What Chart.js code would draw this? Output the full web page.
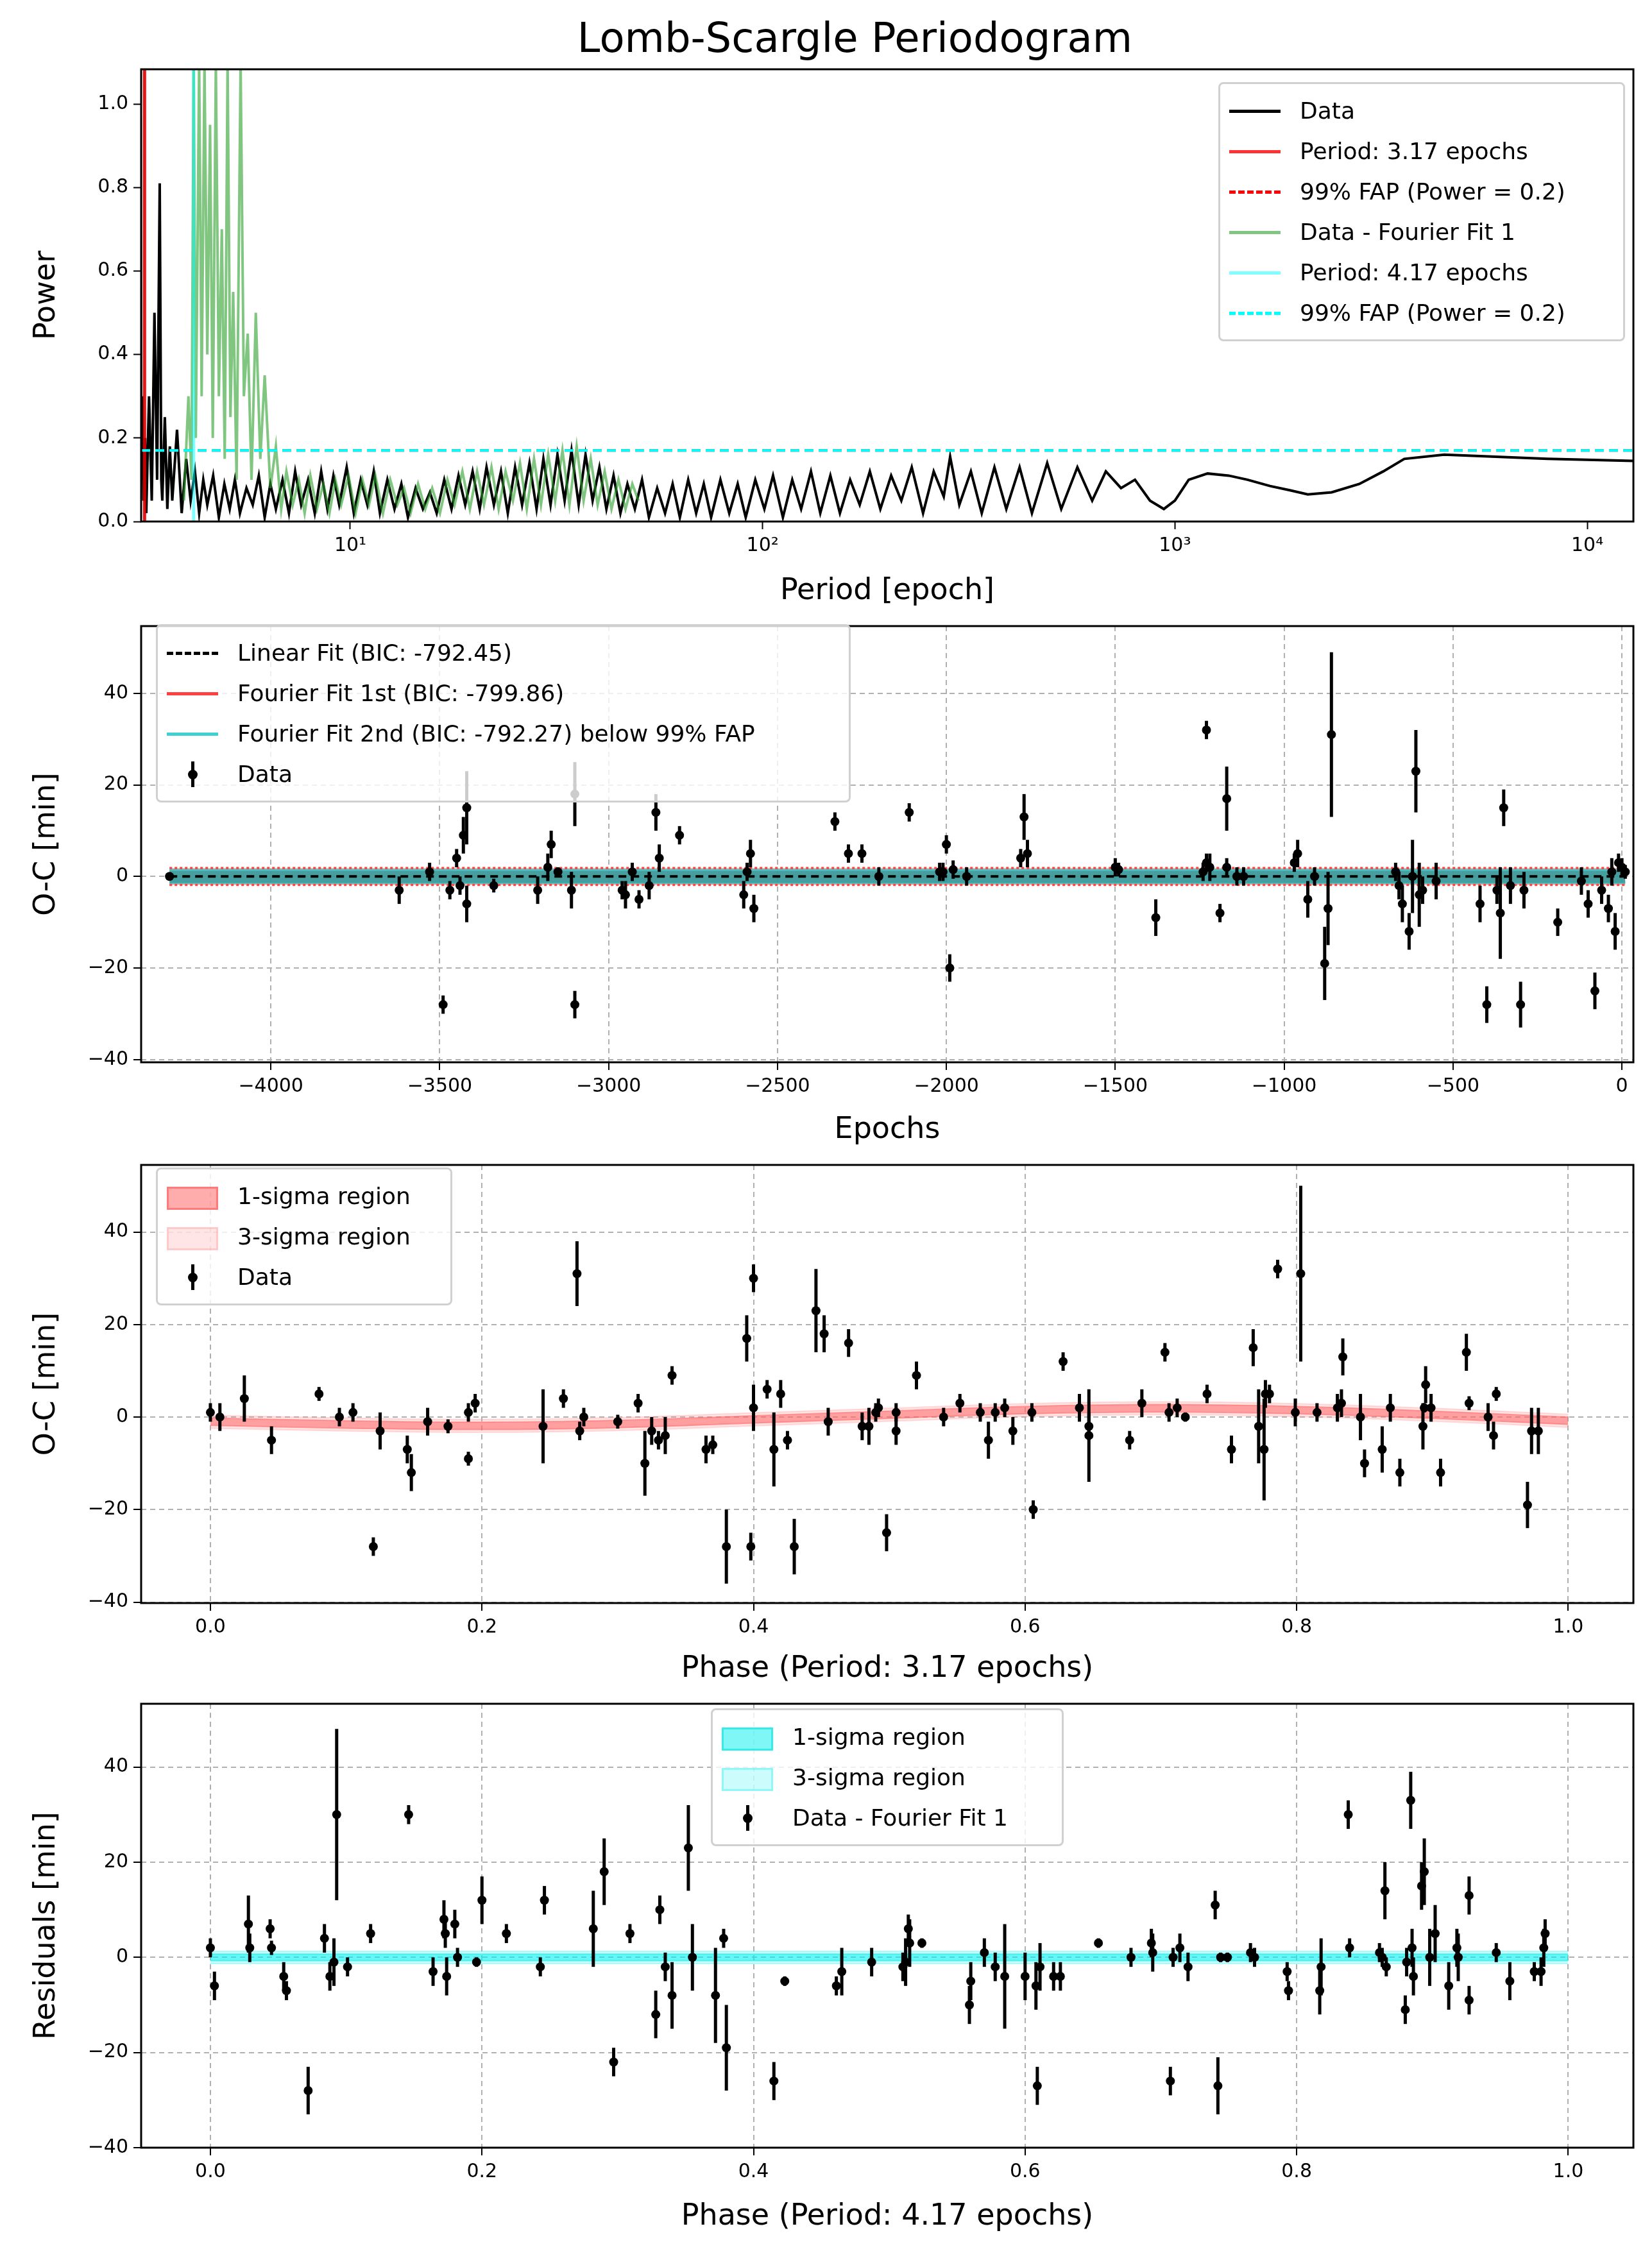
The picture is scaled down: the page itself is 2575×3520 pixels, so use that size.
<!DOCTYPE html>
<html>
<head>
<meta charset="utf-8">
<script src="https://cdn.jsdelivr.net/npm/chart.js@4.4.1/dist/chart.umd.min.js"></script>
<style>
  body { margin: 0; background: #fff; font-family: 'DejaVu Sans', sans-serif; }
  #page { position: relative; width: 2575px; height: 3520px; }
  .panel { position: absolute; left: 0; width: 2575px; }
  .title { position: absolute; left: 0; width: 2575px; top: 22px; text-align: center; font-size: 64px; padding-left: 90px; box-sizing: border-box; }
  .legend { position: absolute; background: rgba(255,255,255,0.8); border: 3px solid #d0d0d0; border-radius: 8px;
            font-size: 36px; padding: 10px 18px 10px 14px; box-sizing: border-box; }
  .legend .row { display: flex; align-items: center; height: 63px; }
  .legend .sw { width: 80px; height: 40px; margin-right: 30px; position: relative; }
</style>
</head>
<body>
<div id="page">
  <div class="title">Lomb-Scargle Periodogram</div>
  <div class="panel" style="top:0;height:950px"><canvas id="c1"></canvas></div>
  <div class="panel" style="top:950px;height:840px"><canvas id="c2"></canvas></div>
  <div class="panel" style="top:1790px;height:840px"><canvas id="c3"></canvas></div>
  <div class="panel" style="top:2630px;height:890px"><canvas id="c4"></canvas></div>
</div>
<script>
// ─── DATA ───
// periodogram of the data: [period, power]
const dataPgram = [[3.1,0.97],[3.11,0.1],[3.13,0.3],[3.15,0.05],[3.18,0.2],[3.2,0.02],[3.25,0.3],[3.3,0.05],[3.35,0.5],[3.4,0.1],
  [3.45,0.81],[3.48,0.1],[3.5,0.05],[3.55,0.25],[3.6,0.03],[3.65,0.18],[3.7,0.05],[3.8,0.22],[3.9,0.02],[4.0,0.15],[4.1,0.05],
  [4.2,0.12],[4.3,0.02],[4.4,0.1],[4.5,0.04],[4.65,0.11],[4.8,0.01],[4.95,0.09],[5.1,0.03],[5.25,0.1],[5.4,0.02],[5.6,0.08],
  [5.8,0.04],[6.0,0.11],[6.2,0.01],[6.4,0.09],[6.6,0.03],[6.85,0.1],[7.1,0.02],[7.35,0.12],[7.6,0.04],[7.9,0.1],[8.2,0.02],
  [8.5,0.12],[8.8,0.03],[9.1,0.11],[9.4,0.04],[9.8,0.13],[10.2,0.02],[10.6,0.1],[11,0.04],[11.4,0.12],[11.8,0.02],[12.3,0.1],
  [12.8,0.03],[13.3,0.09],[13.8,0.01],[14.4,0.08],[15,0.03],[15.6,0.07],[16.2,0.02],[16.9,0.1],[17.6,0.03],[18.3,0.11],[19,0.04],
  [19.8,0.12],[20.6,0.03],[21.4,0.13],[22.3,0.04],[23.2,0.12],[24.1,0.02],[25.1,0.13],[26.1,0.04],[27.2,0.14],[28.3,0.03],
  [29.4,0.15],[30.6,0.04],[31.8,0.16],[33.1,0.05],[34.4,0.17],[35.8,0.04],[37.2,0.16],[38.7,0.05],[40.2,0.13],[41.8,0.03],
  [43.5,0.11],[45.2,0.02],[47,0.09],[49,0.03],[51,0.1],[53,0.01],[55.5,0.08],[58,0.02],[60.5,0.09],[63,0.01],[66,0.1],[69,0.02],
  [72,0.09],[75,0.01],[79,0.1],[83,0.02],[87,0.09],[91,0.01],[96,0.1],[101,0.03],[106,0.11],[112,0.01],[118,0.1],[124,0.03],
  [131,0.12],[138,0.02],[146,0.11],[154,0.02],[163,0.1],[172,0.04],[182,0.12],[193,0.03],[205,0.11],[217,0.05],[230,0.13],
  [245,0.02],[260,0.12],[275,0.06],[285,0.155],[300,0.04],[320,0.12],[340,0.02],[365,0.13],[390,0.03],[420,0.13],[450,0.02],
  [490,0.14],[530,0.03],[580,0.13],[630,0.05],[680,0.12],[740,0.08],[800,0.1],[870,0.05],[940,0.03],[1000,0.05],[1080,0.1],
  [1200,0.115],[1350,0.11],[1500,0.1],[1700,0.085],[1900,0.075],[2100,0.065],[2400,0.07],[2800,0.09],[3200,0.12],[3600,0.15],
  [4500,0.16],[6000,0.155],[8000,0.15],[13000,0.145]];
// periodogram of the residuals (Data - Fourier Fit 1): [period, power]
const residPgram = [[3.95,0.05],[4.05,0.3],[4.12,0.1],[4.17,1.1],[4.22,0.2],[4.3,1.1],[4.36,0.3],[4.43,1.1],[4.5,0.4],[4.57,0.95],
  [4.64,0.2],[4.72,1.1],[4.8,0.3],[4.88,0.7],[4.96,0.15],[5.04,1.1],[5.12,0.25],[5.2,0.55],[5.3,0.1],[5.42,1.1],[5.52,0.3],
  [5.64,0.45],[5.76,0.1],[5.9,0.5],[6.05,0.15],[6.2,0.35],[6.4,0.08],[6.6,0.18],[6.8,0.03],[7.0,0.12],[7.25,0.04],[7.5,0.1],
  [7.75,0.02],[8.0,0.11],[8.3,0.03],[8.6,0.09],[8.9,0.02],[9.2,0.1],[9.5,0.04],[9.9,0.11],[10.3,0.02],[10.7,0.1],[11.1,0.04],
  [11.5,0.11],[12,0.02],[12.5,0.1],[13,0.04],[13.5,0.08],[14,0.02],[14.6,0.09],[15.2,0.03],[15.8,0.08],[16.5,0.02],[17.2,0.1],
  [17.9,0.04],[18.7,0.12],[19.5,0.03],[20.3,0.12],[21.1,0.04],[22,0.13],[22.9,0.03],[23.8,0.12],[24.8,0.05],[25.8,0.14],
  [26.8,0.03],[27.9,0.15],[29,0.04],[30.2,0.16],[31.4,0.05],[32.7,0.17],[34,0.04],[35.4,0.18],[36.8,0.05],[38.3,0.15],
  [39.8,0.04],[41.4,0.12],[43,0.03],[44.7,0.1],[46.5,0.03],[48.3,0.09],[50,0.05]];
const bestPeriod1 = 3.17, bestPeriod2 = 4.17, fapLevel = 0.17;
const periodRange = [3.11, 12940];

// O-C vs epoch: [epoch, O-C, err]
const ocData = [[-4300,0,0.5],[-3620,-3,3],[-3530,1,2],[-3490,-28,2],[-3470,-3,2],[-3450,4,2],[-3440,-2,2],[-3430,9,4],[-3420,15,8],
  [-3420,-6,4],[-3340,-2,1.5],[-3210,-3,3],[-3180,2,3],[-3170,7,3],[-3150,1,1],[-3110,-3,4],[-3100,18,7],[-3100,-28,3],[-2960,-3,2],
  [-2950,-4,3],[-2930,1,2],[-2910,-5,2],[-2880,-2,3],[-2860,14,4],[-2850,4,3],[-2790,9,2],[-2600,-4,3],[-2590,1,2],[-2580,5,3],
  [-2570,-7,3],[-2330,12,2],[-2290,5,2],[-2250,5,2],[-2200,0,2],[-2110,14,2],[-2020,1,2],[-2010,1,2],[-2000,7,2],[-1990,-20,3],
  [-1980,1.5,2],[-1940,0,2],[-1780,4,2],[-1770,13,5],[-1760,5,3],[-1500,2,2],[-1490,1.5,1.5],[-1380,-9,4],[-1240,1,2],[-1230,3,2],
  [-1230,32,2],[-1220,2,3],[-1190,-8,2],[-1170,17,7],[-1170,2,2],[-1140,0,2],[-1120,0,2],[-970,3,2],[-960,5,3],[-930,-5,4],[-910,0,2],
  [-880,-19,8],[-870,-7,8],[-860,31,18],[-670,1,2],[-660,-2,3],[-650,-6,4],[-630,-12,4],[-620,0,8],[-610,23,9],[-600,-4,7],[-590,-3,3],
  [-550,-1,4],[-420,-6,4],[-400,-28,4],[-370,-3,3],[-360,-8,10],[-350,15,4],[-330,-2,4],[-300,-28,5],[-290,-3,4],[-190,-10,3],
  [-120,-1,3],[-100,-6,3],[-80,-25,4],[-60,-3,3],[-40,-7,3],[-20,-12,4],[-30,1,3],[-10,3,2],[0,2,2],[10,1,1.5]];
const epochRange = [-4300, 10];
const epochTicks = [-4000, -3500, -3000, -2500, -2000, -1500, -1000, -500, 0];
const linearFit = [0, 0];
const fourier1Halfwidth = 1.8, fourier2Halfwidth = 1.4;

// O-C folded on period 1: [phase, O-C, err]
const phase1Data = [[0.0,1,2],[0.007,0,3],[0.025,4,5],[0.045,-5,3],[0.08,5,1.5],[0.095,0,2],[0.105,1,2],[0.12,-28,2],[0.125,-3,4],
  [0.145,-7,3],[0.148,-12,4],[0.16,-1,3],[0.175,-2,1.5],[0.19,-9,1.5],[0.19,1,2],[0.195,3,2],[0.245,-2,8],[0.26,4,2],[0.27,31,7],
  [0.272,-3,2],[0.275,0,2],[0.3,-1,1.5],[0.315,3,2],[0.32,-10,7],[0.325,-3,3],[0.33,-5,2],[0.335,-4,4],[0.34,9,2],[0.365,-7,3],
  [0.37,-6,2],[0.38,-28,8],[0.395,17,5],[0.398,-28,3],[0.40,2,5],[0.40,30,3],[0.41,6,2],[0.415,-7,8],[0.42,5,3],[0.425,-5,2],
  [0.43,-28,6],[0.446,23,9],[0.452,18,4],[0.455,-1,3],[0.47,16,3],[0.48,-2,3],[0.485,-2,4],[0.49,1,2],[0.492,2,2],[0.498,-25,4],
  [0.505,-3,3],[0.505,1,2],[0.52,9,3],[0.540,0,2],[0.552,3,2],[0.567,1,2],[0.573,-5,4],[0.578,1,2],[0.585,2,2],[0.591,-3,3],
  [0.606,-20,2],[0.605,1,2],[0.628,12,2],[0.640,2,3],[0.647,-4,10],[0.647,-2,3],[0.677,-5,2],[0.686,3,3],[0.703,14,2],[0.706,1,2],
  [0.712,2,2],[0.718,0,1],[0.734,5,2],[0.752,-7,3],[0.768,15,4],[0.772,-2,8],[0.776,-7,11],[0.777,5,3],[0.780,5,2],[0.786,32,2],
  [0.799,1,3],[0.803,31,19],[0.815,1,2],[0.830,2,3],[0.833,3,3],[0.834,13,4],[0.847,0,5],[0.850,-10,3],[0.863,-7,5],[0.869,2,3],
  [0.876,-12,3],[0.894,2,1],[0.893,-2,5],[0.895,7,4],[0.899,2,3],[0.906,-12,3],[0.925,14,4],[0.927,3,1.5],[0.941,0,3],[0.945,-4,3],
  [0.947,5,1.5],[0.970,-19,5],[0.973,-3,5],[0.978,-3,5]];
const model1Phase = [0,0.1,0.2,0.3,0.4,0.5,0.6,0.7,0.8,0.9,1.0];
const model1Value = [-1,-1.6,-1.9,-1.5,-0.5,0.5,1.5,1.9,1.5,0.5,-0.8];

// residuals folded on period 2: [phase, resid, err]
const phase2Data = [[0.000,2,2],[0.003,-6,3],[0.028,7,6],[0.029,2,3],[0.044,6,2],[0.045,2,1.5],[0.054,-4,3],[0.056,-7,2],[0.072,-28,5],
  [0.084,4,3],[0.088,-4,3],[0.091,-1,5],[0.093,30,18],[0.101,-2,2],[0.118,5,2],[0.146,30,2],[0.164,-3,3],[0.172,8,4],[0.173,5,3],
  [0.174,-4,4],[0.180,7,3],[0.182,0,2],[0.196,-1,1],[0.200,12,5],[0.218,5,2],[0.243,-2,2],[0.246,12,3],[0.282,6,8],[0.290,18,7],
  [0.297,-22,3],[0.309,5,2],[0.328,-12,5],[0.331,10,3],[0.335,-2,3],[0.340,-8,7],[0.352,23,9],[0.355,0,7],[0.372,-8,10],[0.378,4,2],
  [0.380,-19,9],[0.415,-26,4],[0.423,-5,1],[0.461,-6,2],[0.465,-3,5],[0.487,-1,3],[0.510,-2,3],[0.512,-1,5],[0.514,6,3],[0.515,3,5],
  [0.524,3,1],[0.559,-10,4],[0.560,-5,4],[0.570,1,3],[0.578,-2,3],[0.585,-4,11],[0.600,-4,5],[0.608,-6,5],[0.609,-27,4],[0.611,-2,5],
  [0.621,-4,3],[0.626,-4,3],[0.654,3,1],[0.678,0,2],[0.693,3,3],[0.694,1,4],[0.707,-26,3],[0.709,0,2],[0.714,2,3],[0.720,-2,3],
  [0.740,11,3],[0.742,-27,6],[0.744,0,1],[0.749,0,1],[0.766,1,2],[0.769,0,2],[0.793,-3,2],[0.794,-7,2],[0.817,-7,5],[0.818,-2,6],
  [0.838,30,3],[0.839,2,2],[0.861,1,2],[0.863,0,2],[0.865,14,6],[0.866,-2,2],[0.880,-11,3],[0.881,-1,3],[0.884,33,6],[0.885,2,4],
  [0.886,-4,4],[0.892,15,5],[0.894,18,7],[0.898,0,6],[0.902,5,6],[0.912,-6,5],[0.918,2,4],[0.919,0,5],[0.927,-9,3],[0.927,13,4],
  [0.947,1,2],[0.957,-5,4],[0.975,-3,2],[0.980,-3,3],[0.982,2,4],[0.983,5,3]];
const model2Phase = [0, 1];
const model2Value = [0, 0];
const phaseTicks = [0, 0.2, 0.4, 0.6, 0.8, 1.0];
const ocTicks = [-40, -20, 0, 20, 40];
const powerTicks = [0, 0.2, 0.4, 0.6, 0.8, 1.0];
const periodTicks = [10, 100, 1000, 10000];

// ─── HELPERS ───
const FONT = "'DejaVu Sans', sans-serif";
const TICK = { color: '#000', font: { family: FONT, size: 30 }, padding: 8 };
const AXTITLE = (t) => ({ display: true, text: t, color: '#000', font: { family: FONT, size: 46 }, padding: { top: 0, bottom: 0 } });
const pairs = (rows) => rows.map(r => ({ x: r[0], y: r[1] }));
const pts = (xs, ys) => xs.map((x, i) => ({ x, y: ys[i] }));
const supers = { 1: '¹', 2: '²', 3: '³', 4: '⁴' };
const minus = v => String(v).replace('-', '\u2212');
const fixTicks = list => s => { s.ticks = list.map(v => ({ value: v })); };

const framePlugin = {
  id: 'frame',
  afterDraw(chart) {
    const a = chart.chartArea, c = chart.ctx;
    c.save(); c.strokeStyle = '#000'; c.lineWidth = 3;
    c.strokeRect(a.left, a.top, a.right - a.left, a.bottom - a.top);
    c.restore();
  }
};
const errorPlugin = {
  id: 'errbars',
  afterDatasetsDraw(chart) {
    const c = chart.ctx, xs = chart.scales.x, ys = chart.scales.y;
    chart.data.datasets.forEach(ds => {
      if (!ds.yerr) return;
      c.save(); c.strokeStyle = '#000'; c.lineWidth = 5;
      ds.data.forEach((p, i) => {
        const px = xs.getPixelForValue(p.x);
        c.beginPath();
        c.moveTo(px, ys.getPixelForValue(p.y - ds.yerr[i]));
        c.lineTo(px, ys.getPixelForValue(p.y + ds.yerr[i]));
        c.stroke();
      });
      c.restore();
    });
  }
};

function linScale(min, max, title, ticks, fmt) {
  return {
    type: 'linear', min, max,
    title: AXTITLE(title),
    ticks: Object.assign({ callback: fmt }, TICK),
    afterBuildTicks: fixTicks(ticks),
    grid: { color: '#b0b0b0', lineWidth: 2, tickColor: '#000', tickLength: 12, tickWidth: 2 },
    border: { display: false, dash: [8, 6] }
  };
}

function errSet(rows) {
  return {
    type: 'scatter', label: 'Data', order: 0,
    data: pairs(rows), yerr: rows.map(r => r[2]),
    pointRadius: 7, pointBackgroundColor: '#000', pointBorderWidth: 0
  };
}

function makeChart(id, datasets, xScale, yScale, padTop, xHeight, padBottom) {
  xScale.afterFit = s => { s.height = xHeight; };
  yScale.afterFit = s => { s.width = 175; };
  return new Chart(document.getElementById(id), {
    type: 'line',
    data: { datasets },
    options: {
      responsive: true, maintainAspectRatio: false, animation: false,
      layout: { padding: { top: padTop, right: 29, left: 45, bottom: padBottom || 0 } },
      plugins: { legend: { display: false }, tooltip: { enabled: false } },
      elements: { point: { radius: 0 }, line: { tension: 0 } },
      scales: { x: xScale, y: yScale }
    },
    plugins: [framePlugin, errorPlugin]
  });
}

function makeLegend(left, top, width, items) {
  const box = document.createElement('div');
  box.className = 'legend';
  box.style.left = left + 'px'; box.style.top = top + 'px'; box.style.width = width + 'px';
  items.forEach(it => {
    const row = document.createElement('div'); row.className = 'row';
    const sw = document.createElement('div'); sw.className = 'sw';
    if (it.kind === 'line') {
      sw.innerHTML = `<div style="position:absolute;left:0;right:0;top:18px;border-top:5px ${it.dash ? 'dashed' : 'solid'} ${it.color}"></div>`;
    } else if (it.kind === 'patch') {
      sw.innerHTML = `<div style="position:absolute;left:0;right:0;top:5px;height:30px;background:${it.color};border:3px solid ${it.edge}"></div>`;
    } else {
      sw.innerHTML = `<div style="position:absolute;left:38px;top:0;height:40px;border-left:5px solid #000"></div>
        <div style="position:absolute;left:33px;top:13px;width:15px;height:15px;border-radius:50%;background:#000"></div>`;
    }
    const tx = document.createElement('span'); tx.textContent = it.text;
    row.appendChild(sw); row.appendChild(tx); box.appendChild(row);
  });
  document.getElementById('page').appendChild(box);
}

document.addEventListener('DOMContentLoaded', () => {

  // ─── 1. PERIODOGRAM ───
  const x1 = {
    type: 'logarithmic', min: periodRange[0], max: periodRange[1],
    title: AXTITLE('Period [epoch]'),
    ticks: Object.assign({}, TICK, { callback: v => '10' + supers[Math.round(Math.log10(v))] }),
    afterBuildTicks: fixTicks(periodTicks),
    grid: { display: true, drawOnChartArea: false, tickColor: '#000', tickLength: 12, tickWidth: 2 },
    border: { display: false }
  };
  const y1 = {
    type: 'linear', min: 0, max: 1.083,
    title: AXTITLE('Power'),
    ticks: Object.assign({ callback: v => v.toFixed(1) }, TICK),
    afterBuildTicks: fixTicks(powerTicks),
    grid: { display: true, drawOnChartArea: false, tickColor: '#000', tickLength: 12, tickWidth: 2 },
    border: { display: false }
  };
  makeChart('c1', [
    { label: 'Data', data: pairs(dataPgram), borderColor: '#000', borderWidth: 4, order: 6 },
    { label: 'Period 1', data: pts([bestPeriod1, bestPeriod1], [0, 1.1]), borderColor: 'rgba(220,0,0,0.9)', borderWidth: 5, order: 5 },
    { label: 'FAP 1', data: pts(periodRange, [fapLevel, fapLevel]), borderColor: '#ff0000', borderDash: [14, 8], borderWidth: 4, order: 4 },
    { label: 'Data - Fourier Fit 1', data: pairs(residPgram), borderColor: 'rgba(44,160,44,0.6)', borderWidth: 4, order: 3 },
    { label: 'Period 2', data: pts([bestPeriod2, bestPeriod2], [0, 1.1]), borderColor: 'rgba(0,255,255,0.5)', borderWidth: 5, order: 2 },
    { label: 'FAP 2', data: pts(periodRange, [fapLevel, fapLevel]), borderColor: '#00ffff', borderDash: [14, 8], borderWidth: 4, order: 1 }
  ], x1, y1, 108, 137);
  makeLegend(1899, 128, 634, [
    { kind: 'line', color: '#000', text: 'Data' },
    { kind: 'line', color: 'rgba(255,0,0,0.8)', text: 'Period: 3.17 epochs' },
    { kind: 'line', color: '#ff0000', dash: true, text: '99% FAP (Power = 0.2)' },
    { kind: 'line', color: 'rgba(44,160,44,0.6)', text: 'Data - Fourier Fit 1' },
    { kind: 'line', color: 'rgba(0,255,255,0.5)', text: 'Period: 4.17 epochs' },
    { kind: 'line', color: '#00ffff', dash: true, text: '99% FAP (Power = 0.2)' }
  ]);

  // ─── 2. O-C vs EPOCH ───
  makeChart('c2', [
    errSet(ocData),
    { label: 'Linear Fit', data: pts(epochRange, linearFit), borderColor: '#000', borderDash: [12, 8], borderWidth: 4, order: 1 },
    { label: 'F2 up', data: pts(epochRange, [fourier2Halfwidth, fourier2Halfwidth]), borderColor: 'rgba(64,200,200,0.9)', borderWidth: 3, fill: '+1', backgroundColor: 'rgba(40,160,160,0.85)', order: 2 },
    { label: 'F2 lo', data: pts(epochRange, [-fourier2Halfwidth, -fourier2Halfwidth]), borderColor: 'rgba(64,200,200,0.9)', borderWidth: 3, order: 2 },
    { label: 'F1 up', data: pts(epochRange, [fourier1Halfwidth, fourier1Halfwidth]), borderColor: '#ff4040', borderDash: [4, 4], borderWidth: 4, fill: '+1', backgroundColor: 'rgba(255,80,80,0.6)', order: 3 },
    { label: 'F1 lo', data: pts(epochRange, [-fourier1Halfwidth, -fourier1Halfwidth]), borderColor: '#ff4040', borderDash: [4, 4], borderWidth: 4, order: 3 }
  ], linScale(-4384, 34, 'Epochs', epochTicks, minus),
     linScale(-40.6, 54.7, 'O-C [min]', ocTicks, minus),
     5, 134);
  makeLegend(243, 973, 1083, [
    { kind: 'line', color: '#000', dash: true, text: 'Linear Fit (BIC: -792.45)' },
    { kind: 'line', color: '#ff4040', text: 'Fourier Fit 1st (BIC: -799.86)' },
    { kind: 'line', color: '#40d0d0', text: 'Fourier Fit 2nd (BIC: -792.27) below 99% FAP' },
    { kind: 'err', text: 'Data' }
  ]);

  const phaseFmt = v => v.toFixed(1);

  // ─── 3. PHASE FOLD, PERIOD 1 ───
  makeChart('c3', [
    errSet(phase1Data),
    { label: '1s up', data: pts(model1Phase, model1Value.map(v => v + 0.8)), borderColor: 'rgba(255,100,100,0.5)', borderWidth: 2, fill: '+1', backgroundColor: 'rgba(255,90,90,0.5)', tension: 0.4, order: 2 },
    { label: '1s lo', data: pts(model1Phase, model1Value.map(v => v - 0.8)), borderColor: 'rgba(255,100,100,0.5)', borderWidth: 2, tension: 0.4, order: 2 },
    { label: '3s up', data: pts(model1Phase, model1Value.map(v => v + 1.4)), borderColor: 'rgba(255,150,150,0.3)', borderWidth: 2, fill: '+1', backgroundColor: 'rgba(255,150,150,0.25)', tension: 0.4, order: 3 },
    { label: '3s lo', data: pts(model1Phase, model1Value.map(v => v - 1.4)), borderColor: 'rgba(255,150,150,0.3)', borderWidth: 2, tension: 0.4, order: 3 }
  ], linScale(-0.051, 1.048, 'Phase (Period: 3.17 epochs)', phaseTicks, phaseFmt),
     linScale(-40.2, 54.5, 'O-C [min]', ocTicks, minus), 8, 131);
  makeLegend(243, 1820, 462, [
    { kind: 'patch', color: 'rgba(255,90,90,0.5)', edge: 'rgba(255,90,90,0.6)', text: '1-sigma region' },
    { kind: 'patch', color: 'rgba(255,150,150,0.25)', edge: 'rgba(255,150,150,0.35)', text: '3-sigma region' },
    { kind: 'err', text: 'Data' }
  ]);

  // ─── 4. RESIDUALS, PERIOD 2 ───
  makeChart('c4', [
    errSet(phase2Data),
    { label: '1s up', data: pts(model2Phase, model2Value.map(v => v + 0.7)), borderColor: 'rgba(0,230,230,0.5)', borderWidth: 2, fill: '+1', backgroundColor: 'rgba(0,240,240,0.5)', order: 2 },
    { label: '1s lo', data: pts(model2Phase, model2Value.map(v => v - 0.7)), borderColor: 'rgba(0,230,230,0.5)', borderWidth: 2, order: 2 },
    { label: '3s up', data: pts(model2Phase, model2Value.map(v => v + 1.3)), borderColor: 'rgba(0,240,240,0.25)', borderWidth: 2, fill: '+1', backgroundColor: 'rgba(0,240,240,0.2)', order: 3 },
    { label: '3s lo', data: pts(model2Phase, model2Value.map(v => v - 1.3)), borderColor: 'rgba(0,240,240,0.25)', borderWidth: 2, order: 3 }
  ], linScale(-0.051, 1.048, 'Phase (Period: 4.17 epochs)', phaseTicks, phaseFmt),
     linScale(-40, 53.3, 'Residuals [min]', ocTicks, minus), 10, 136, 36);
  makeLegend(1108, 2663, 550, [
    { kind: 'patch', color: 'rgba(0,240,240,0.5)', edge: 'rgba(0,230,230,0.6)', text: '1-sigma region' },
    { kind: 'patch', color: 'rgba(0,240,240,0.2)', edge: 'rgba(0,240,240,0.3)', text: '3-sigma region' },
    { kind: 'err', text: 'Data - Fourier Fit 1' }
  ]);
});
</script>
</body>
</html>
